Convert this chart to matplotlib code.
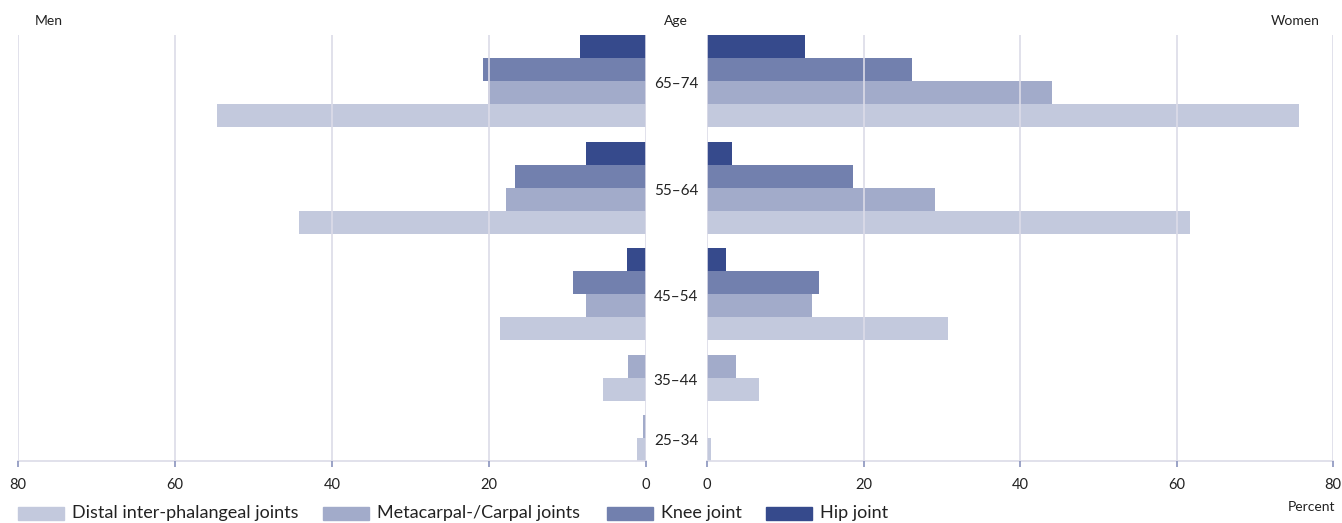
import numpy as np
import matplotlib.pyplot as plt
from matplotlib.patches import Rectangle
from matplotlib.transforms import blended_transform_factory

plt.rcParams['font.family'] = ['Lato', 'DejaVu Sans']

ages = ['25–34', '35–44', '45–54', '55–64', '65–74']
series = ['Distal inter-phalangeal joints', 'Metacarpal-/Carpal joints', 'Knee joint', 'Hip joint']
colors = ['#c3c9dd', '#a2abca', '#7280ae', '#364a8c']

# percent per age group (25-34 ... 65-74)
men_distal = [1.1, 5.5, 18.6, 44.2, 54.6]
men_meta = [0.4, 2.3, 7.6, 17.8, 20.1]
men_knee = [0, 0, 9.3, 16.7, 20.8]
men_hip = [0, 0, 2.4, 7.6, 8.4]

women_distal = [0.5, 6.6, 30.8, 61.7, 75.7]
women_meta = [0, 3.7, 13.4, 29.1, 44.1]
women_knee = [0, 0, 14.3, 18.6, 26.2]
women_hip = [0, 0, 2.4, 3.2, 12.5]

men = [men_distal, men_meta, men_knee, men_hip]
women = [women_distal, women_meta, women_knee, women_hip]

# rows: only series with a value in an age group get a row
gap = 0.63
rows = []      # (series index, age index, y position)
centers = []
pos = 0.0
for ai in range(len(ages)):
    start = pos
    for si in range(len(series)):
        if men[si][ai] > 0 or women[si][ai] > 0:
            rows.append((si, ai, pos + 0.5))
            pos += 1
    centers.append((start + pos) / 2)
    pos += gap
top = pos - gap

W, H = 1342, 523
fig = plt.figure(figsize=(W / 100, H / 100), dpi=100)
axL = fig.add_axes([18 / W, 62 / H, 628 / W, 426 / H])
axR = fig.add_axes([707 / W, 62 / H, 626 / W, 426 / H])

grid_c = '#dcdce8'
for ax, data in [(axL, men), (axR, women)]:
    for si, c in enumerate(colors):
        ys = [r[2] for r in rows if r[0] == si]
        vals = [data[si][r[1]] for r in rows if r[0] == si]
        ax.barh(ys, vals, height=1.0, color=c, zorder=1)
    ax.set_xlim(0, 80)
    ax.set_ylim(0, top)
    ax.set_xticks([0, 20, 40, 60, 80])
    ax.set_xticklabels(['0', '20', '40', '60', '80'], fontsize=10.5, color='#222222')
    ax.set_yticks([])
    ax.grid(axis='x', color=grid_c, linewidth=1.2, zorder=3)
    ax.set_axisbelow(False)
    for s in ['top', 'left', 'right']:
        ax.spines[s].set_visible(False)
    ax.spines['bottom'].set_color(grid_c)
    ax.spines['bottom'].set_linewidth(1.2)
    ax.tick_params(axis='x', length=4, width=1.2, color='#8a93bd', pad=8)

axL.invert_xaxis()

# age labels in the middle gap
tr = blended_transform_factory(fig.transFigure, axL.transData)
for yc, a in zip(centers, ages):
    fig.text(676 / W, yc - 0.15, a, transform=tr, ha='center', va='center', fontsize=11, color='#222222')

fig.text(35 / W, 1 - 21 / H, 'Men', ha='left', va='center', fontsize=10, color='#222222')
fig.text(676 / W, 1 - 21 / H, 'Age', ha='center', va='center', fontsize=10, color='#222222')
fig.text(1320 / W, 1 - 21 / H, 'Women', ha='right', va='center', fontsize=10, color='#222222')
fig.text(1335 / W, 1 - 507 / H, 'Percent', ha='right', va='center', fontsize=10, color='#222222')

# legend
leg_x = [18, 323, 607, 766]
for x0, lab, c in zip(leg_x, series, colors):
    fig.patches.append(Rectangle((x0 / W, 1 - 520 / H), 46 / W, 13 / H,
                                 transform=fig.transFigure, color=c, figure=fig))
    fig.text((x0 + 54) / W, 1 - 513 / H, lab, ha='left', va='center', fontsize=13, color='#222222')

fig.savefig('out.png', dpi=100)
